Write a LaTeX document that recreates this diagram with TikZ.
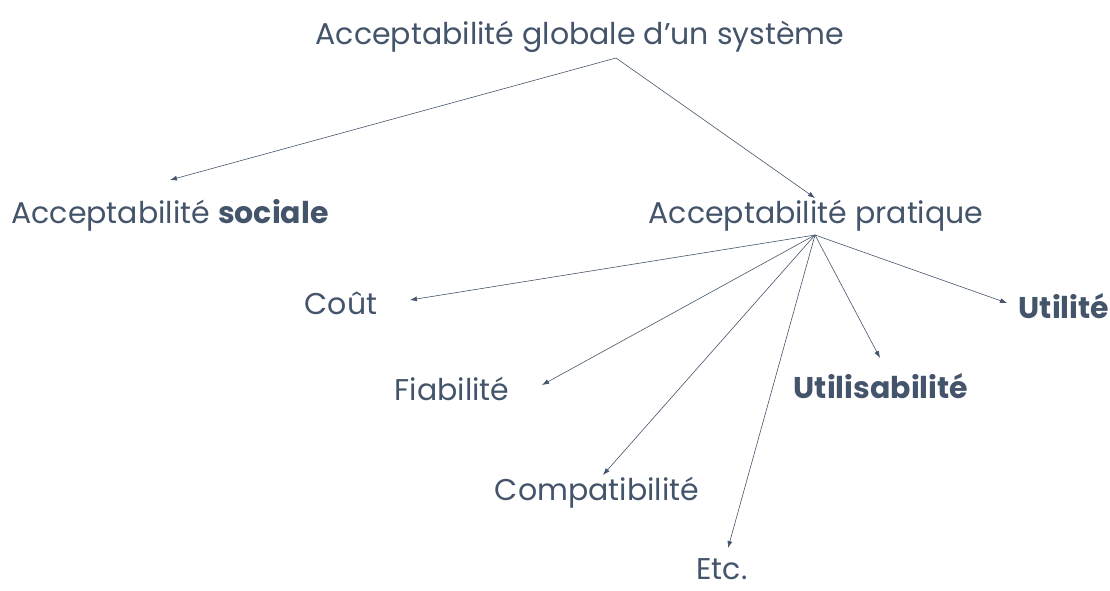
\documentclass[tikz,border=0pt]{standalone}
\usepackage{fontspec}
\setmainfont{Poppins}
\usetikzlibrary{arrows.meta}
\definecolor{ardoise}{HTML}{44546A}
\tikzset{
  label txt/.style={text=ardoise, font=\fontsize{30}{34}\selectfont, inner sep=0pt, anchor=base},
  fleche/.style={ardoise, line width=0.6pt, -{Latex[length=7pt,width=5pt]}}
}

\begin{document}
\begin{tikzpicture}[x=1pt, y=-1pt]
  \useasboundingbox (0,0) rectangle (1110,590);
  % textes
  \node [label txt] (globale) at (580,44) {Acceptabilité globale d’un système};
  \node [label txt] (sociale) at (170,223) {Acceptabilité \textbf{sociale}};
  \node [label txt] (pratique) at (816,223) {Acceptabilité pratique};
  \node [label txt] (cout) at (341,314) {Coût};
  \node [label txt] (fiab) at (452,400) {Fiabilité};
  \node [label txt] (compat) at (597,500) {Compatibilité};
  \node [label txt] (etc) at (722,579) {Etc.};
  \node [label txt] (utilis) at (881,398) {\textbf{Utilisabilité}};
  \node [label txt] (utilite) at (1064,318) {\textbf{Utilité}};
  % points de depart
  \coordinate (hautG) at (616,58);
  \coordinate (hautP) at (815,235);
  % pointes
  \coordinate (versS) at (170,180);
  \coordinate (versP) at (815,198);
  \coordinate (versC) at (410,300);
  \coordinate (versF) at (542,385);
  \coordinate (versM) at (603,475);
  \coordinate (versE) at (728,548);
  \coordinate (versU) at (880,358);
  \coordinate (versT) at (1007,303);
  % fleches
  \draw [fleche] (hautG) -- (versS);
  \draw [fleche] (hautG) -- (versP);
  \foreach \bout in {versC, versF, versM, versE, versU, versT}
    \draw [fleche] (hautP) -- (\bout);
\end{tikzpicture}
\end{document}
